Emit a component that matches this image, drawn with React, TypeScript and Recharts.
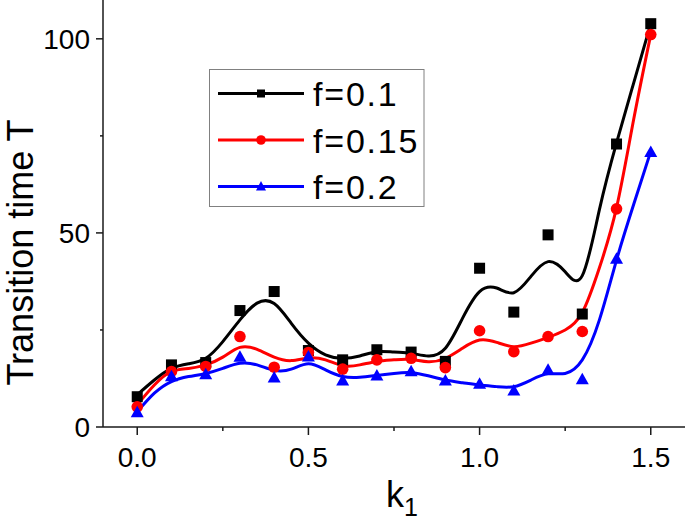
import React from 'react';
import { ComposedChart, Line, Scatter, XAxis, YAxis } from 'recharts';

// ---- data ----
const pointK = [0, 0.1, 0.2, 0.3, 0.4, 0.5, 0.6, 0.7, 0.8, 0.9, 1.0, 1.1, 1.2, 1.3, 1.4, 1.5];
const pointsF010 = [7.8, 16, 16.6, 30, 34.9, 19.7, 17.3, 19.9, 19.3, 16.9, 40.9, 29.6, 49.5, 29.1, 72.9, 103.9];
const pointsF015 = [5.2, 14.3, 15.6, 23.3, 15.4, 19.2, 14.9, 17.3, 17.7, 15.3, 24.8, 19.4, 23.3, 24.6, 56.2, 101.1];
const pointsF020 = [3.9, 13.2, 13.7, 18.2, 12.9, 18.3, 12.1, 13.4, 14.5, 12.1, 11.3, 9.5, 14.9, 12.4, 43.5, 71.0];

const curveK = [0, 0.05, 0.1, 0.15, 0.2, 0.25, 0.3, 0.35, 0.4, 0.45, 0.5, 0.55, 0.6, 0.65, 0.7, 0.75, 0.8, 0.85, 0.9, 0.95, 1.0, 1.05, 1.1, 1.15, 1.2, 1.25, 1.3, 1.35, 1.4, 1.45, 1.5];
const curveF010 = [8.3, 12.1, 15.1, 16.3, 17.7, 22, 27.6, 31.9, 31.8, 26.7, 21.6, 18.6, 17.7, 18.3, 19.4, 19.3, 19.0, 18.3, 20.3, 28, 34.9, 35.8, 34.6, 38.8, 42.6, 40, 39, 56, 73.2, 88.6, 103.9];
const curveF015 = [5.7, 10.8, 14.3, 15.1, 16, 18, 20.5, 20, 18, 17.1, 17.8, 17.3, 15.8, 16, 16.9, 17.3, 17.4, 16.8, 17.7, 20.3, 22.4, 21.8, 20.7, 21.6, 23.1, 25, 29.5, 41, 56.5, 79.2, 101.1];
const curveF020 = [3.9, 8.7, 11.7, 13, 13.8, 15.1, 16.4, 16, 14.6, 14.9, 16.3, 14.7, 13, 12.8, 13.3, 13.8, 14, 13.2, 12.1, 11.4, 10.8, 10.4, 10.4, 12.1, 13.7, 13.8, 17.3, 27.6, 43, 57.3, 71];

const xTicks = [0, 0.25, 0.5, 0.75, 1.0, 1.25, 1.5];
const yTicks = [0, 25, 50, 75, 100];
const seriesNames = ['f=0.1', 'f=0.15', 'f=0.2'];
const colors = ['#000000', '#ff0000', '#0000ff'];

const toPoints = (ks: number[], vs: number[]) => ks.map((k, i) => ({ k, T: vs[i] }));

const FONT = '"Liberation Sans", Arial, Helvetica, sans-serif';
const AXIS_COLOR = '#1a1a1a';
const X_MARGIN = 20;
const Y_MARGIN = 13;

const XTick = (props: any) => {
  const { x, y, payload } = props;
  const v = payload.value as number;
  const major = Math.abs(v * 2 - Math.round(v * 2)) < 1e-6;
  const axisY = y - X_MARGIN;
  return (
    <g>
      <line x1={x} x2={x} y1={axisY} y2={axisY + (major ? 8 : 4)} stroke={AXIS_COLOR} strokeWidth={1.5} />
      {major && (
        <text x={x} y={y} dy="0.71em" textAnchor="middle" fontSize={28} fontFamily={FONT} fill="#000">
          {v.toFixed(1)}
        </text>
      )}
    </g>
  );
};

const YTick = (props: any) => {
  const { x, y, payload } = props;
  const v = payload.value as number;
  const major = v % 50 === 0;
  const axisX = x + Y_MARGIN;
  return (
    <g>
      <line x1={axisX - (major ? 7 : 3)} x2={axisX} y1={y} y2={y} stroke={AXIS_COLOR} strokeWidth={1.5} />
      {major && (
        <text x={x} y={y} dy="0.36em" textAnchor="end" fontSize={28} fontFamily={FONT} fill="#000">
          {String(v)}
        </text>
      )}
    </g>
  );
};

const Square = (p: any) => <rect x={p.cx - 5.5} y={p.cy - 5.5} width={11} height={11} fill="#000" />;
const Dot = (p: any) => <circle cx={p.cx} cy={p.cy} r={5.8} fill="#ff0000" />;
const Tri = (p: any) => (
  <polygon points={`${p.cx},${p.cy - 6} ${p.cx - 6.5},${p.cy + 5.5} ${p.cx + 6.5},${p.cy + 5.5}`} fill="#0000ff" />
);

const LegendMarker = ({ i, x, y }: { i: number; x: number; y: number }) => {
  if (i === 0) return <rect x={x - 4} y={y - 4} width={8} height={8} fill={colors[0]} />;
  if (i === 1) return <circle cx={x} cy={y} r={4.8} fill={colors[1]} />;
  return <polygon points={`${x},${y - 5.5} ${x - 5},${y + 4} ${x + 5},${y + 4}`} fill={colors[2]} />;
};

export default function App() {
  const rowsY = [93.5, 140, 186.5];
  return (
    <div style={{ position: 'absolute', left: 0, top: 0, width: 685, height: 521, background: '#fff' }}>
      <ComposedChart width={685} height={521} margin={{ top: 0, right: 0, bottom: 0, left: 0 }}>
        <XAxis
          type="number"
          dataKey="k"
          domain={[-0.1, 1.6]}
          ticks={xTicks}
          interval={0}
          allowDataOverflow
          height={94}
          tickLine={false}
          tickSize={0}
          tickMargin={X_MARGIN}
          tick={<XTick />}
          axisLine={{ stroke: AXIS_COLOR, strokeWidth: 1.5 }}
        />
        <YAxis
          type="number"
          dataKey="T"
          domain={[0, 110]}
          ticks={yTicks}
          interval={0}
          allowDataOverflow
          width={103}
          tickLine={false}
          tickSize={0}
          tickMargin={Y_MARGIN}
          tick={<YTick />}
          axisLine={{ stroke: AXIS_COLOR, strokeWidth: 1.5 }}
        />
        <Line data={toPoints(curveK, curveF010)} dataKey="T" type="natural" stroke={colors[0]} strokeWidth={3} dot={false} activeDot={false} isAnimationActive={false} />
        <Scatter data={toPoints(pointK, pointsF010)} dataKey="T" shape={Square} isAnimationActive={false} />
        <Line data={toPoints(curveK, curveF015)} dataKey="T" type="natural" stroke={colors[1]} strokeWidth={3} dot={false} activeDot={false} isAnimationActive={false} />
        <Scatter data={toPoints(pointK, pointsF015)} dataKey="T" shape={Dot} isAnimationActive={false} />
        <Line data={toPoints(curveK, curveF020)} dataKey="T" type="natural" stroke={colors[2]} strokeWidth={3} dot={false} activeDot={false} isAnimationActive={false} />
        <Scatter data={toPoints(pointK, pointsF020)} dataKey="T" shape={Tri} isAnimationActive={false} />
      </ComposedChart>
      <svg width={685} height={521} style={{ position: 'absolute', left: 0, top: 0, pointerEvents: 'none' }}>
        <text
          x={33}
          y={252.5}
          transform="rotate(-90 33 252.5)"
          textAnchor="middle"
          fontSize={36}
          fontFamily={FONT}
          fill="#000"
        >
          Transition time T
        </text>
        <text x={386} y={506.5} fontSize={36} fontFamily={FONT} fill="#000">
          k<tspan fontSize={25} dy={9}>1</tspan>
        </text>
        <rect x={209.5} y={69.5} width={214.5} height={137} fill="#fff" stroke="#808080" strokeWidth={1} />
        {seriesNames.map((name, i) => (
          <g key={name}>
            <line x1={218} x2={304} y1={rowsY[i]} y2={rowsY[i]} stroke={colors[i]} strokeWidth={3} />
            <LegendMarker i={i} x={261} y={rowsY[i]} />
            <text x={313} y={rowsY[i] + 12.5} fontSize={34} letterSpacing={1.8} fontFamily={FONT} fill="#000">
              {name}
            </text>
          </g>
        ))}
      </svg>
    </div>
  );
}
